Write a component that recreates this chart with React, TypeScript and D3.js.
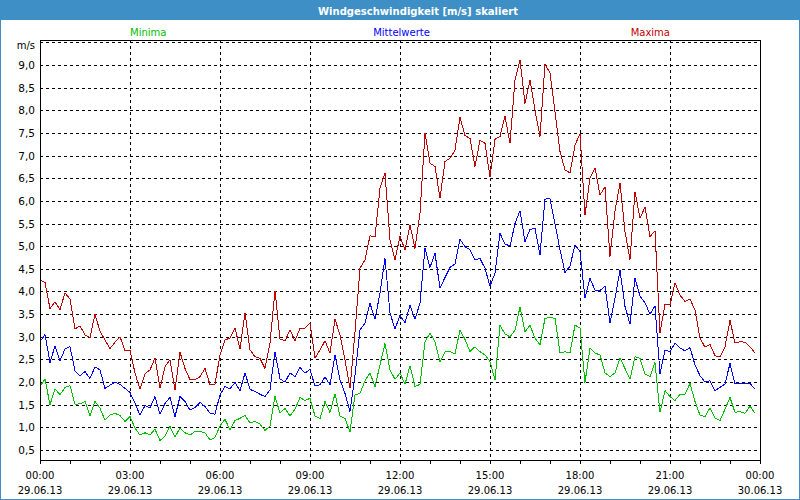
import React from "react";
import * as d3 from "d3";

const TITLE = "Windgeschwindigkeit [m/s] skaliert";
const SERIES_NAMES = ["Minima", "Mittelwerte", "Maxima"];
const SERIES_COLORS = ["#00c000", "#0000ff", "#c00000"];
const Y_TICKS = [0.5, 1, 1.5, 2, 2.5, 3, 3.5, 4, 4.5, 5, 5.5, 6, 6.5, 7, 7.5, 8, 8.5, 9];
const Y_GRID = [...Y_TICKS, 9.5];
const Y_UNIT = "m/s";

// 10-minute values, 29.06.13 00:00 .. 23:50
const maxima = [
  4.25, 4.2, 3.62, 3.77, 3.6, 3.97, 3.83, 3.17, 3.24, 3.04, 2.98, 3.5, 3.12, 2.93, 2.74, 2.88, 3.0, 2.69, 2.7, 2.2, 1.84, 2.18, 2.27, 2.53, 1.86,
  2.34, 2.49, 1.83, 2.66, 2.3, 2.05, 2.05, 2.12, 2.3, 1.94, 1.95, 2.6, 2.93, 2.97, 3.19, 2.73, 3.53, 2.71, 2.56, 2.52, 2.3, 2.86, 4.02, 2.95,
  2.91, 3.15, 2.91, 3.19, 3.19, 3.31, 2.53, 2.71, 2.91, 2.64, 3.39, 3.04, 2.49, 1.86, 3.1, 4.51, 4.7, 5.23, 5.2, 6.28, 6.61, 5.14, 4.7, 5.22,
  4.92, 5.47, 4.95, 5.73, 7.49, 6.83, 6.76, 6.06, 6.87, 6.94, 7.12, 7.85, 7.44, 7.38, 6.76, 7.34, 7.27, 6.53, 7.36, 7.42, 7.87, 7.27, 8.67, 9.11,
  8.15, 8.67, 8.0, 7.42, 9.02, 8.82, 7.97, 7.09, 6.68, 6.62, 7.23, 7.48, 5.69, 6.5, 6.73, 6.13, 6.31, 4.77, 5.78, 6.39, 5.32, 4.7, 6.2, 5.62,
  5.86, 5.21, 5.34, 3.08, 3.72, 3.7, 4.19, 3.92, 3.78, 3.83, 3.59, 2.97, 2.77, 2.83, 2.58, 2.56, 2.78, 3.36, 2.86, 2.89, 2.88, 2.78, 2.64,
];

const mittelwerte = [
  2.89, 3.05, 2.43, 2.8, 2.47, 2.73, 2.78, 2.25, 2.14, 2.23, 2.08, 2.33, 2.27, 1.86, 1.93, 2.0, 1.95, 1.86, 1.77, 1.53, 1.27, 1.48, 1.43, 1.68, 1.29,
  1.53, 1.66, 1.24, 1.68, 1.57, 1.38, 1.44, 1.55, 1.46, 1.31, 1.29, 1.72, 1.9, 1.85, 1.99, 1.81, 2.2, 1.84, 1.79, 1.73, 1.68, 1.83, 2.67, 2.07,
  2.0, 2.2, 2.12, 2.32, 2.2, 2.28, 1.91, 1.94, 2.11, 1.94, 2.6, 2.05, 1.75, 1.35, 2.15, 3.15, 3.3, 3.74, 3.39, 3.96, 4.73, 3.52, 3.17, 3.47,
  3.31, 3.69, 3.39, 3.74, 4.95, 4.53, 4.84, 4.07, 4.31, 4.53, 4.61, 5.15, 4.99, 4.92, 4.7, 4.73, 4.51, 4.12, 4.4, 5.28, 5.05, 5.0, 5.5, 5.78,
  5.1, 5.37, 5.39, 4.81, 6.04, 6.05, 5.5, 4.92, 4.42, 4.56, 5.03, 4.88, 3.85, 4.29, 4.03, 4.02, 4.12, 3.3, 3.85, 4.47, 3.67, 3.28, 4.29, 3.9,
  3.75, 3.5, 3.68, 2.18, 2.71, 2.67, 2.86, 2.75, 2.69, 2.76, 2.38, 2.14, 2.0, 2.03, 1.81, 1.88, 1.96, 2.41, 1.96, 1.96, 1.96, 1.97, 1.84,
];

const minima = [
  1.9, 2.07, 1.5, 1.85, 1.72, 1.88, 1.92, 1.51, 1.52, 1.57, 1.26, 1.57, 1.42, 1.16, 1.27, 1.31, 1.26, 1.13, 1.24, 0.98, 0.83, 0.88, 0.83, 0.96, 0.71,
  0.8, 1.02, 0.78, 0.99, 0.88, 0.83, 0.91, 0.91, 0.88, 0.72, 0.78, 1.03, 1.18, 0.94, 1.15, 1.2, 1.26, 1.1, 1.13, 1.07, 0.93, 1.03, 1.69, 1.31,
  1.42, 1.25, 1.4, 1.66, 1.59, 1.64, 1.25, 1.19, 1.57, 1.33, 1.74, 1.25, 1.2, 0.9, 1.72, 1.75, 2.03, 2.2, 1.9, 2.38, 2.85, 2.27, 2.06, 2.2,
  1.95, 2.36, 1.9, 1.95, 2.89, 3.08, 2.89, 2.45, 2.67, 2.67, 2.62, 3.15, 2.94, 2.67, 2.78, 2.67, 2.6, 2.45, 2.05, 3.26, 3.06, 3.0, 3.14, 3.66,
  3.11, 3.25, 2.97, 2.82, 3.41, 3.42, 3.41, 2.64, 2.67, 2.64, 3.26, 3.19, 1.99, 2.75, 2.64, 2.6, 2.2, 2.12, 2.2, 2.53, 2.3, 2.06, 2.56, 2.52,
  2.18, 2.12, 2.43, 1.33, 1.81, 1.68, 1.59, 1.73, 1.73, 1.97, 1.57, 1.27, 1.24, 1.43, 1.21, 1.15, 1.4, 1.66, 1.33, 1.35, 1.31, 1.47, 1.31,
];

const START = new Date(2013, 5, 29, 0, 0);
const END = new Date(2013, 5, 30, 0, 0);
const STEP_MIN = 10;

const W = 800;
const H = 500;
const PL = 40, PR = 760, PT = 40, PB = 460.5;
const FRAME = "#3d8fc6";
const FONT = "'DejaVu Sans', Verdana, sans-serif";

export default function App() {
  const x = d3.scaleTime().domain([START, END]).range([PL, PR]);
  const y = d3.scaleLinear().domain([0.268, 9.552]).range([PB, PT]);
  const timeOf = (i: number) => d3.timeMinute.offset(START, i * STEP_MIN);
  const line = d3
    .line<number>()
    .x((_, i) => x(timeOf(i)))
    .y((d) => y(d));

  const majorTicks = x.ticks(d3.timeHour.every(3) as any);
  const minorTicks = x.ticks(d3.timeHour.every(1) as any);
  const fmtTime = d3.timeFormat("%H:%M");
  const fmtDate = d3.timeFormat("%d.%m.%y");
  const fmtY = (v: number) => v.toFixed(1).replace(".", ",");
  const snap = (v: number) => Math.round(v) + 0.5;

  const series = [minima, mittelwerte, maxima];

  return (
    <svg
      width={W}
      height={H}
      style={{ position: "absolute", left: 0, top: 0, background: "#fff" }}
      fontFamily={FONT}
    >
      <rect x={0} y={0} width={W} height={H} fill="#ffffff" />
      {/* frame */}
      <rect x={0} y={0} width={W} height={20} fill={FRAME} />
      <rect x={0.5} y={0.5} width={W - 1} height={H - 1} fill="none" stroke={FRAME} strokeWidth={1} />
      <text
        x={418}
        y={15}
        textAnchor="middle"
        fill="#ffffff"
        fontWeight="bold"
        fontSize={11}
        textLength={200}
        lengthAdjust="spacingAndGlyphs"
      >
        {TITLE}
      </text>

      {/* legend labels */}
      <text x={x(majorTicks[1])} y={36} fill={SERIES_COLORS[0]} fontSize={10} textAnchor="start">
        {SERIES_NAMES[0]}
      </text>
      <text x={W / 2 + 1.5} y={36} fill={SERIES_COLORS[1]} fontSize={10} textAnchor="middle">
        {SERIES_NAMES[1]}
      </text>
      <text x={x(majorTicks[7])} y={36} fill={SERIES_COLORS[2]} fontSize={10} textAnchor="end">
        {SERIES_NAMES[2]}
      </text>

      {/* grid */}
      <g stroke="#000" strokeWidth={1} strokeDasharray="3,3" shapeRendering="crispEdges">
        {Y_GRID.map((v) => (
          <line key={"h" + v} x1={PL} x2={PR} y1={snap(y(v))} y2={snap(y(v))} />
        ))}
        {majorTicks.slice(1, -1).map((t) => (
          <line key={"v" + +t} x1={snap(x(t))} x2={snap(x(t))} y1={PT} y2={PB} />
        ))}
      </g>

      {/* y labels */}
      <g fontSize={10.5} fill="#000" textAnchor="end">
        {Y_TICKS.map((v) => (
          <text key={"yl" + v} x={35} y={y(v) + 4}>
            {fmtY(v)}
          </text>
        ))}
        <text x={35} y={y(9.5) + 7} fontSize={10}>
          {Y_UNIT}
        </text>
      </g>

      {/* data lines */}
      <g fill="none" strokeWidth={1} shapeRendering="crispEdges">
        {series.map((s, k) => (
          <path key={"s" + k} d={line(s) || ""} stroke={SERIES_COLORS[k]} />
        ))}
      </g>

      {/* plot box */}
      <g stroke="#000" strokeWidth={1} shapeRendering="crispEdges" fill="none">
        <line x1={PL} x2={PR + 0.5} y1={PT + 0.5} y2={PT + 0.5} />
        <line x1={PR + 0.5} x2={PR + 0.5} y1={PT} y2={PB} />
        <line x1={PL + 0.5} x2={PL + 0.5} y1={PT} y2={PB} />
        <line x1={PL} x2={PR + 1} y1={PB} y2={PB} />
        {minorTicks.map((t) => (
          <line key={"mt" + +t} x1={snap(x(t))} x2={snap(x(t))} y1={PB} y2={PB + 3} />
        ))}
      </g>

      {/* x labels */}
      <g fontSize={10} fill="#000" textAnchor="middle">
        {majorTicks.map((t) => (
          <g key={"xl" + +t}>
            <text x={x(t)} y={479}>
              {fmtTime(t)}
            </text>
            <text x={x(t)} y={494}>
              {fmtDate(t)}
            </text>
          </g>
        ))}
      </g>
    </svg>
  );
}
